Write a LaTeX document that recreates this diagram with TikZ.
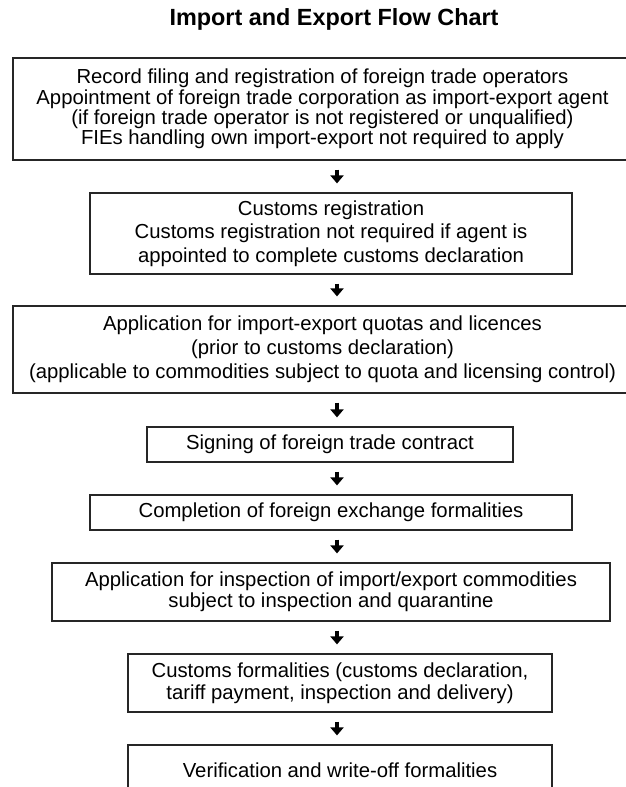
\documentclass[tikz,border=0pt]{standalone}
\usepackage{fontspec}
\setmainfont{Liberation Sans}
\usetikzlibrary{arrows.meta}
\begin{document}
\begin{tikzpicture}[x=1pt,y=-1pt,
  stepbox/.style={draw=black!85, line width=1.2pt, rectangle, inner sep=0pt,
    align=center, text=black, font=\fontsize{20.3}{#1}\selectfont},
  stepbox/.default=21,
  flowarrow/.style={line width=4.5pt, draw=black,
    -{Triangle[width=13pt,length=8pt]}, shorten <=9pt, shorten >=9pt}]
\path[use as bounding box, fill=white] (0,0) rectangle (625,787);
\node[font=\bfseries\fontsize{23.4}{26}\selectfont, text=black] (title) at (334,19) {Import and Export Flow Chart};
\node[stepbox=20.4, minimum width=619pt, minimum height=102pt] (b1) at (322.5,109)
  {Record filing and registration of foreign trade operators\\
   Appointment of foreign trade corporation as import-export agent\\
   (if foreign trade operator is not registered or unqualified)\\
   FIEs handling own import-export not required to apply};
\node[stepbox=23.5, minimum width=482pt, minimum height=81pt] (b2) at (331,233.5)
  {Customs registration\\
   Customs registration not required if agent is\\
   appointed to complete customs declaration};
\node[stepbox=24, minimum width=619pt, minimum height=87pt] (b3) at (322.5,349.5)
  {Application for import-export quotas and licences\\
   (prior to customs declaration)\\
   (applicable to commodities subject to quota and licensing control)};
\node[stepbox, minimum width=366pt, minimum height=35pt] (b4) at (330,444.5)
  {Signing of foreign trade contract};
\node[stepbox, minimum width=482pt, minimum height=35pt] (b5) at (331,512.5)
  {Completion of foreign exchange formalities};
\node[stepbox=21, minimum width=558pt, minimum height=58pt] (b6) at (331,592)
  {Application for inspection of import/export commodities\\
   subject to inspection and quarantine};
\node[stepbox=22, minimum width=424pt, minimum height=58pt] (b7) at (340,683)
  {Customs formalities (customs declaration,\\
   tariff payment, inspection and delivery)};
\node[stepbox, minimum width=424pt, minimum height=50pt] (b8) at (340,770)
  {Verification and write-off formalities};
\coordinate (ax) at (337,0);
\draw[flowarrow] (b1.south -| ax) -- (b2.north -| ax);
\draw[flowarrow] (b2.south -| ax) -- (b3.north -| ax);
\draw[flowarrow] (b3.south -| ax) -- (b4.north -| ax);
\draw[flowarrow] (b4.south -| ax) -- (b5.north -| ax);
\draw[flowarrow] (b5.south -| ax) -- (b6.north -| ax);
\draw[flowarrow] (b6.south -| ax) -- (b7.north -| ax);
\draw[flowarrow] (b7.south -| ax) -- (b8.north -| ax);
\end{tikzpicture}
\end{document}
